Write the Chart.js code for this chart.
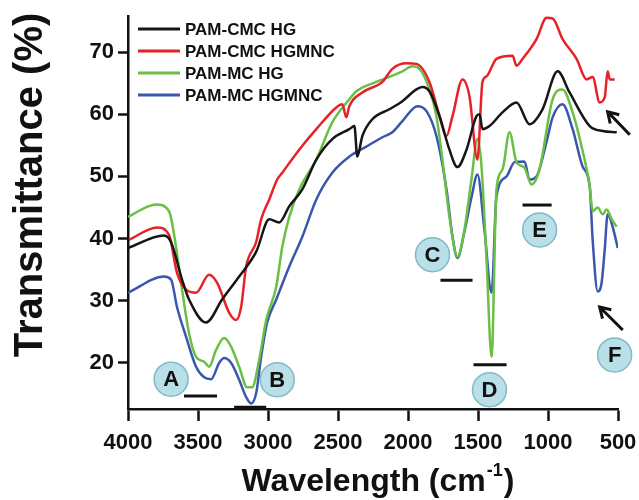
<!DOCTYPE html>
<html>
<head>
<meta charset="utf-8">
<script src="https://cdn.jsdelivr.net/npm/chart.js@4.4.0/dist/chart.umd.min.js"></script>
<style>
  body { margin: 0; background: #fff; }
</style>
</head>
<body>
<canvas id="ftir" width="639" height="500"></canvas>
<script>
// FTIR spectra, wavenumber (cm-1) and transmittance (%)
const cmcHgX = [4000, 3742, 3692, 3614, 3564, 3442, 3328, 3206, 3084, 2991, 2920, 2848, 2755, 2655, 2541, 2419, 2383, 2362, 2326, 2255, 2133, 2040, 1940, 1897, 1847, 1775, 1704, 1647, 1582, 1511, 1489, 1468, 1418, 1325, 1225, 1132, 1039, 931, 846, 702, 609, 509];
const cmcHgY = [38.5, 40.5, 39.4, 33.4, 30.2, 26.5, 30.2, 33.9, 37.9, 43.1, 42.6, 45.2, 47.9, 52.7, 56.0, 57.6, 58.1, 53.2, 56.5, 59.2, 60.8, 62.1, 64.0, 64.4, 63.7, 59.7, 54.3, 51.5, 54.3, 59.7, 60.0, 57.6, 58.1, 60.3, 61.9, 58.4, 60.8, 66.9, 63.5, 58.1, 57.3, 57.1];

const cmcMncX = [3993, 3793, 3707, 3650, 3585, 3514, 3421, 3363, 3278, 3228, 3192, 3156, 3084, 3049, 2991, 2934, 2898, 2777, 2655, 2512, 2469, 2441, 2419, 2326, 2183, 2112, 2011, 1940, 1847, 1775, 1725, 1682, 1611, 1561, 1504, 1468, 1439, 1368, 1253, 1225, 1182, 1082, 1010, 967, 896, 796, 724, 681, 631, 595, 574, 559, 524];
const cmcMncY = [39.8, 41.8, 40.6, 34.5, 31.8, 31.3, 34.2, 32.9, 28.1, 26.9, 29.0, 35.5, 39.5, 43.1, 46.3, 49.5, 50.6, 54.3, 57.6, 61.1, 61.6, 59.5, 61.3, 63.5, 65.2, 67.3, 68.2, 68.1, 65.2, 59.7, 56.5, 59.7, 65.6, 62.9, 52.7, 65.2, 66.1, 68.9, 69.4, 67.8, 68.9, 72.1, 75.5, 75.4, 72.1, 68.9, 65.6, 66.0, 61.9, 62.7, 66.9, 65.6, 65.6];

const mcHgX = [4000, 3800, 3707, 3657, 3614, 3564, 3514, 3456, 3421, 3371, 3313, 3263, 3206, 3149, 3113, 3063, 3013, 2941, 2898, 2848, 2777, 2655, 2541, 2419, 2369, 2226, 2133, 2040, 1969, 1918, 1847, 1797, 1754, 1704, 1647, 1597, 1547, 1504, 1475, 1439, 1403, 1368, 1325, 1275, 1225, 1168, 1118, 1061, 967, 896, 824, 760, 702, 681, 645, 609, 581, 545, 509];
const mcHgY = [43.5, 45.5, 44.4, 38.7, 31.8, 24.8, 21.0, 20.2, 19.4, 22.1, 24.0, 22.6, 19.4, 16.1, 16.1, 20.5, 26.9, 32.3, 38.7, 43.5, 47.9, 52.7, 58.7, 62.4, 63.7, 65.2, 66.0, 66.9, 67.7, 67.3, 64.0, 59.7, 52.7, 43.5, 37.1, 41.4, 49.5, 56.0, 51.6, 36.6, 21.0, 47.9, 51.1, 57.1, 52.3, 51.4, 48.7, 51.1, 62.4, 64.0, 60.3, 54.8, 48.4, 44.4, 45.0, 43.9, 44.7, 43.1, 41.9];

const mcMncX = [4000, 3742, 3692, 3650, 3585, 3514, 3456, 3406, 3349, 3313, 3263, 3206, 3156, 3120, 3084, 3049, 3006, 2941, 2848, 2755, 2655, 2541, 2419, 2298, 2183, 2112, 2040, 1933, 1868, 1797, 1725, 1682, 1647, 1597, 1547, 1504, 1454, 1403, 1368, 1296, 1239, 1168, 1132, 1082, 1010, 967, 896, 824, 753, 702, 681, 645, 617, 595, 574, 538, 502];
const mcMncY = [31.3, 33.9, 33.4, 29.0, 24.2, 19.4, 17.7, 17.4, 20.0, 20.8, 20.0, 17.3, 14.5, 13.5, 15.2, 21.0, 26.5, 30.2, 35.5, 40.3, 46.3, 50.6, 53.2, 54.8, 56.3, 57.1, 58.9, 61.3, 60.5, 56.5, 47.9, 40.3, 36.9, 41.1, 46.6, 50.3, 41.4, 31.3, 46.8, 50.0, 52.3, 52.4, 49.5, 50.0, 55.6, 59.5, 61.6, 57.6, 51.6, 48.4, 39.8, 31.5, 32.9, 38.2, 43.9, 41.9, 38.5];

const seriesNames = ["PAM-CMC HG", "PAM-CMC HGMNC", "PAM-MC HG", "PAM-MC HGMNC"];
const seriesColors = ["#161616", "#e62228", "#6abf45", "#3b56ad"];

const xTicks = [4000, 3500, 3000, 2500, 2000, 1500, 1000, 500];
const yTicks = [20, 30, 40, 50, 60, 70];

// band markers: letter, wavenumber, transmittance
const bandLabels = [["A", 3692, 17.4], ["B", 2934, 17.3], ["C", 1825, 37.4], ["D", 1418, 15.7], ["E", 1060, 41.4], ["F", 524, 21.3]];
// bars under the bands: from, to, transmittance
const bandBars = [[3600, 3364, 14.7], [3242, 3013, 12.9], [1768, 1539, 33.3], [1532, 1296, 19.7], [1182, 974, 45.4]];
// arrows: tail x, tail y, head x, head y
const arrows = [[416, 56.7, 574, 60.4], [466, 25.3, 631, 29.0]];

const FONT = "'Liberation Sans', Arial, sans-serif";

function pts(xs, ys) {
  return xs.map((x, i) => ({ x: x, y: ys[i] }));
}

const seriesData = [pts(cmcHgX, cmcHgY), pts(cmcMncX, cmcMncY), pts(mcHgX, mcHgY), pts(mcMncX, mcMncY)];

const legendBox = {
  id: "legendBox",
  afterDraw(chart) {
    const ctx = chart.ctx;
    const area = chart.chartArea;
    ctx.save();
    ctx.font = "bold 17px " + FONT;
    ctx.textBaseline = "middle";
    chart.data.datasets.forEach((ds, i) => {
      const y = area.top + 13 + i * 22;
      ctx.strokeStyle = ds.borderColor;
      ctx.lineWidth = 3;
      ctx.beginPath();
      ctx.moveTo(area.left + 10, y);
      ctx.lineTo(area.left + 52, y);
      ctx.stroke();
      ctx.fillStyle = "#111";
      ctx.fillText(ds.label, area.left + 57, y + 1);
    });
    ctx.restore();
  }
};

const marks = {
  id: "marks",
  afterDatasetsDraw(chart) {
    const ctx = chart.ctx;
    const sx = chart.scales.x, sy = chart.scales.y;
    ctx.save();
    // bars
    ctx.strokeStyle = "#111";
    ctx.lineWidth = 3;
    bandBars.forEach(b => {
      ctx.beginPath();
      ctx.moveTo(sx.getPixelForValue(b[0]), sy.getPixelForValue(b[2]));
      ctx.lineTo(sx.getPixelForValue(b[1]), sy.getPixelForValue(b[2]));
      ctx.stroke();
    });
    // arrows
    arrows.forEach(a => {
      const x1 = sx.getPixelForValue(a[0]), y1 = sy.getPixelForValue(a[1]);
      const x2 = sx.getPixelForValue(a[2]), y2 = sy.getPixelForValue(a[3]);
      const ang = Math.atan2(y2 - y1, x2 - x1);
      ctx.beginPath();
      ctx.moveTo(x1, y1);
      ctx.lineTo(x2, y2);
      ctx.moveTo(x2 - 12 * Math.cos(ang - 0.55), y2 - 12 * Math.sin(ang - 0.55));
      ctx.lineTo(x2, y2);
      ctx.lineTo(x2 - 12 * Math.cos(ang + 0.55), y2 - 12 * Math.sin(ang + 0.55));
      ctx.stroke();
    });
    // letter circles
    bandLabels.forEach(l => {
      const x = sx.getPixelForValue(l[1]), y = sy.getPixelForValue(l[2]);
      ctx.beginPath();
      ctx.arc(x, y, 17, 0, Math.PI * 2);
      ctx.fillStyle = "#b9dfe8";
      ctx.fill();
      ctx.lineWidth = 1.5;
      ctx.strokeStyle = "#84b9c8";
      ctx.stroke();
      ctx.fillStyle = "#111";
      ctx.font = "bold 22px " + FONT;
      ctx.textAlign = "center";
      ctx.textBaseline = "middle";
      ctx.fillText(l[0], x, y + 1);
    });
    ctx.restore();
  }
};

const titles = {
  id: "titles",
  afterDraw(chart) {
    const ctx = chart.ctx;
    ctx.save();
    ctx.fillStyle = "#111";
    // y title
    ctx.font = "bold 40px " + FONT;
    ctx.textAlign = "center";
    ctx.textBaseline = "alphabetic";
    ctx.translate(42, 185);
    ctx.rotate(-Math.PI / 2);
    ctx.fillText("Transmittance (%)", 0, 0);
    ctx.setTransform(1, 0, 0, 1, 0, 0);
    // x title with superscript
    const big = "bold 32px " + FONT, small = "bold 18px " + FONT;
    ctx.font = big;
    const w1 = ctx.measureText("Wavelength (cm").width;
    const w3 = ctx.measureText(")").width;
    ctx.font = small;
    const w2 = ctx.measureText("-1").width + 2;
    let x = 378 - (w1 + w2 + w3) / 2;
    const base = 491;
    ctx.textAlign = "left";
    ctx.font = big;
    ctx.fillText("Wavelength (cm", x, base);
    x += w1 + 1;
    ctx.font = small;
    ctx.fillText("-1", x, base - 15);
    x += w2 - 1;
    ctx.font = big;
    ctx.fillText(")", x, base);
    ctx.restore();
  }
};

new Chart(document.getElementById("ftir"), {
  type: "line",
  data: {
    datasets: seriesData.map((d, i) => ({
      label: seriesNames[i],
      data: d,
      borderColor: seriesColors[i],
      borderWidth: 2.5,
      pointRadius: 0,
      fill: false,
      cubicInterpolationMode: "monotone"
    }))
  },
  options: {
    responsive: false,
    animation: false,
    layout: { padding: { top: 16, right: 21, left: 0, bottom: 0 } },
    plugins: {
      legend: { display: false },
      tooltip: { enabled: false }
    },
    scales: {
      x: {
        type: "linear",
        reverse: true,
        min: 500,
        max: 4000,
        afterFit: s => { s.height = 91; s.paddingLeft = 0; s.paddingRight = 0; },
        afterBuildTicks: s => { s.ticks = xTicks.map(v => ({ value: v })); },
        grid: { drawOnChartArea: false, drawTicks: true, tickLength: 12, tickColor: "#111", tickWidth: 2.5 },
        border: { display: true, color: "#111", width: 2.5 },
        ticks: {
          color: "#111",
          font: { family: FONT, size: 22, weight: "bold" },
          padding: 9,
          maxRotation: 0,
          autoSkip: false,
          callback: v => String(v)
        }
      },
      y: {
        min: 12.6,
        max: 75.8,
        afterFit: s => { s.width = 128; s.paddingTop = 0; s.paddingBottom = 0; },
        afterBuildTicks: s => { s.ticks = yTicks.map(v => ({ value: v })); },
        grid: { drawOnChartArea: false, drawTicks: true, tickLength: 10, tickColor: "#111", tickWidth: 2.5 },
        border: { display: true, color: "#111", width: 2.5 },
        ticks: { color: "#111", font: { family: FONT, size: 22, weight: "bold" }, padding: 4 }
      }
    }
  },
  plugins: [legendBox, marks, titles]
});
</script>
</body>
</html>
